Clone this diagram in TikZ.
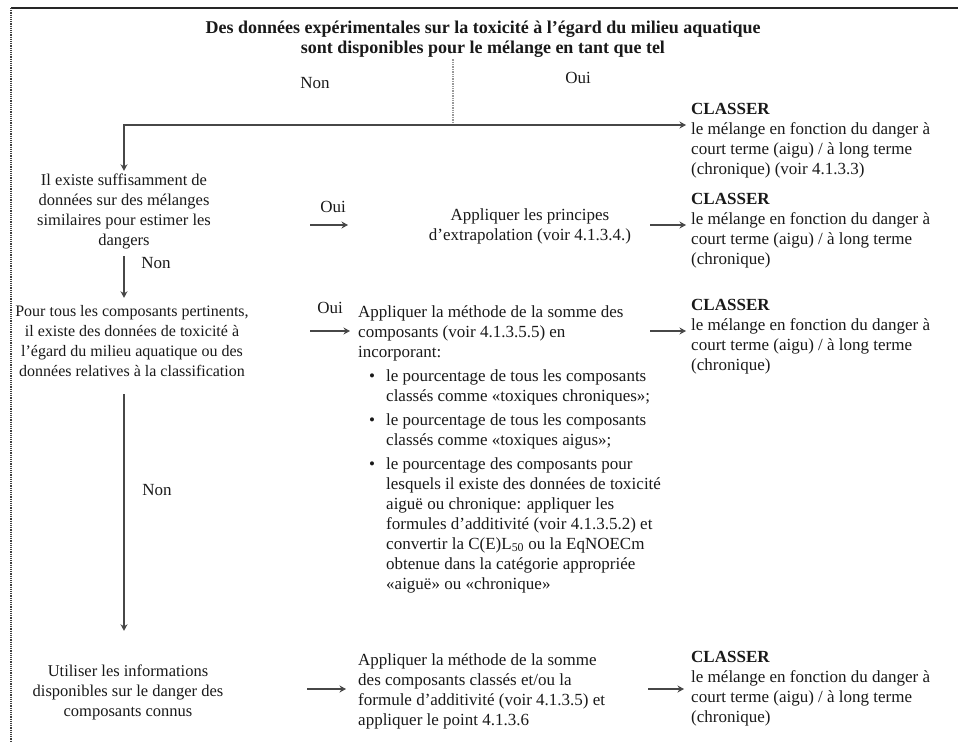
\documentclass[tikz,border=0pt]{standalone}
\usepackage{fontspec}
\setmainfont{Liberation Serif}
\usetikzlibrary{arrows.meta,calc}
\begin{document}
\begin{tikzpicture}[x=1pt,y=-1pt,
  txt/.style={font=\fontsize{17}{20}\selectfont, inner sep=0pt, text=black!90},
  ltxt/.style={font=\fontsize{16.5}{20}\selectfont, inner sep=0pt, text=black!90},
  ttl/.style={font=\fontsize{18}{20}\bfseries\selectfont, inner sep=0pt, align=center, text=black!90},
  qbox/.style={ltxt, align=center},
  mbox/.style={txt, align=left, anchor=north west},
  cbox/.style={txt, align=left, anchor=west},
  arr/.style={line width=2pt, black!72, -{Stealth[length=6.5pt,width=7pt]}},
  dotline/.style={line width=1.4pt, black!40, densely dotted},
]
\useasboundingbox (0,0) rectangle (958,742);
% frame
\draw[line width=1.6pt, black!85] (11,8) -- (958,8);
\draw[line width=1.2pt, black!75, densely dotted] (11,8) -- (11,742);

% title
\node[ttl] (title) at (483,39) {\strut Des données expérimentales sur la toxicité à l’égard du milieu aquatique\\sont disponibles pour le mélange en tant que tel\strut};
\node[txt] (lnon1) at (315,83) {Non};
\node[txt] (loui1) at (578,78) {Oui};

% left column
\node[qbox] (q1) at (124,211) {\strut Il existe suffisamment de\\données sur des mélanges\\similaires pour estimer les\\dangers\strut};
\node[qbox, font=\fontsize{16}{20}\selectfont] (q3) at (132,342) {\strut Pour tous les composants pertinents,\\il existe des données de toxicité à\\l’égard du milieu aquatique ou des\\données relatives à la classification\strut};
\node[qbox] (q4) at (128,692) {\strut Utiliser les informations\\disponibles sur le danger des\\composants connus\strut};

% middle column
\node[txt, align=center] (e1) at (530,226) {\strut Appliquer les principes\\d’extrapolation (voir 4.1.3.4.)\strut};
\node[mbox] (m1) at (358,303) {\strut Appliquer la méthode de la somme des\\
composants (voir 4.1.3.5.5) en\\
incorporant:\\[4pt]
\makebox[28pt]{\textbullet}le pourcentage de tous les composants\\
\hspace*{28pt}classés comme «toxiques chroniques»;\\[4pt]
\makebox[28pt]{\textbullet}le pourcentage de tous les composants\\
\hspace*{28pt}classés comme «toxiques aigus»;\\[4pt]
\makebox[28pt]{\textbullet}le pourcentage des composants pour\\
\hspace*{28pt}lesquels il existe des données de toxicité\\
\hspace*{28pt}aiguë ou chronique: appliquer les\\
\hspace*{28pt}formules d’additivité (voir 4.1.3.5.2) et\\
\hspace*{28pt}convertir la C(E)L\textsubscript{50} ou la EqNOECm\\
\hspace*{28pt}obtenue dans la catégorie appropriée\\
\hspace*{28pt}«aiguë» ou «chronique»\strut};
\node[mbox] (m2) at (358,651) {\strut Appliquer la méthode de la somme\\
des composants classés et/ou la\\
formule d’additivité (voir 4.1.3.5) et\\
appliquer le point 4.1.3.6\strut};

% right column
\node[cbox] (c1) at (691,140) {\strut\textbf{CLASSER}\\le mélange en fonction du danger à\\court terme (aigu) / à long terme\\(chronique) (voir 4.1.3.3)\strut};
\node[cbox] (c2) at (691,230) {\strut\textbf{CLASSER}\\le mélange en fonction du danger à\\court terme (aigu) / à long terme\\(chronique)\strut};
\node[cbox] (c3) at (691,336) {\strut\textbf{CLASSER}\\le mélange en fonction du danger à\\court terme (aigu) / à long terme\\(chronique)\strut};
\node[cbox] (c4) at (691,688) {\strut\textbf{CLASSER}\\le mélange en fonction du danger à\\court terme (aigu) / à long terme\\(chronique)\strut};

% labels
\node[txt] (lnon2) at (156,263) {Non};
\node[txt] (lnon3) at (157,490) {Non};
\node[txt] (loui2) at (333,207) {Oui};
\node[txt] (loui3) at (330,308) {Oui};

% junction and row levels
\coordinate (j) at (453,125);
\coordinate (r2) at (0,225);
\coordinate (r3) at (0,331);
\coordinate (r4) at (0,689);

% connectors
\draw[dotline] (title.south -| j) -- (j);
\draw[arr] (j) -| (q1.north);
\draw[arr, shorten >=5pt] (j) -- (c1.west |- j);

\draw[arr, shorten <=5pt, shorten >=4pt] (q1.south) -- (q1.south |- q3.north);
\draw[arr, shorten <=12pt, shorten >=31pt] (q1.south |- q3.south) -- (q1.south |- q4.north);

\draw[arr, shorten <=186pt, shorten >=182pt] (q1.center |- r2) -- (e1.center |- r2);
\draw[arr, shorten <=120pt, shorten >=5pt] (e1.center |- r2) -- (c2.west |- r2);

\draw[arr, shorten <=178pt, shorten >=8pt] (q3.center |- r3) -- (m1.west |- r3);
\draw[arr, shorten <=292pt, shorten >=5pt] (m1.west |- r3) -- (c3.west |- r3);

\draw[arr, shorten <=179pt, shorten >=12pt] (q4.center |- r4) -- (m2.west |- r4);
\draw[arr, shorten <=290pt, shorten >=7pt] (m2.west |- r4) -- (c4.west |- r4);
\end{tikzpicture}
\end{document}
